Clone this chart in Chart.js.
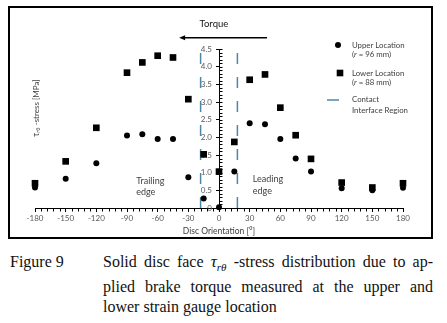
<!DOCTYPE html>
<html>
<head>
<meta charset="utf-8">
<script src="https://cdn.jsdelivr.net/npm/chart.js@4.4.0/dist/chart.umd.min.js"></script>
<style>
  body { margin: 0; background: #fff; width: 447px; height: 323px; position: relative; overflow: hidden; }
  #frame { position: absolute; left: 8px; top: 6px; width: 425px; height: 233px; border: 2px solid #000; box-sizing: border-box; }
  #frame canvas { position: absolute; left: 0; top: 0; }
  .cap { position: absolute; font-family: "Liberation Serif", "Times New Roman", serif; font-size: 16px; line-height: 20px; color: #111; }
  #fig { left: 10px; top: 252px; }
  #captext { left: 103px; top: 252px; width: 330px; }
  #captext div { text-align: justify; text-align-last: justify; }
  #captext div.last { text-align-last: left; }
</style>
</head>
<body>
<div id="frame"><canvas id="chart" width="421" height="229"></canvas></div>
<div class="cap" id="fig">Figure 9</div>
<div class="cap" id="captext">
  <div>Solid disc face <i style="font-size:17px">τ</i><sub style="font-size:11px"><i>rθ</i></sub> -stress distribution due to ap-</div>
  <div>plied brake torque measured at the upper and</div>
  <div class="last">lower strain gauge location</div>
</div>
<script>
// disc orientation [deg] where the gauges were read
const angles = [-180, -150, -120, -90, -75, -60, -45, -30, -15, 0, 15, 30, 45, 60, 75, 90, 120, 150, 180];
// tau_r_theta stress [MPa]
const upperStress = [0.58, 0.83, 1.27, 2.05, 2.09, 1.95, 1.95, 0.87, 0.27, 0.02, 1.03, 2.40, 2.37, 1.95, 1.40, 1.03, 0.56, 0.50, 0.57];
const lowerStress = [0.70, 1.32, 2.27, 3.83, 4.12, 4.31, 4.26, 3.08, 1.52, 1.03, 1.87, 3.63, 3.78, 2.84, 2.06, 1.39, 0.72, 0.58, 0.70];
// contact interface region edges [deg]
const contactEdges = [-18, 18];
const xTicks = [-180, -150, -120, -90, -60, -30, 0, 30, 60, 90, 120, 150, 180];
const yTicks = [0, 0.5, 1, 1.5, 2, 2.5, 3, 3.5, 4, 4.5];

const FONT = 'Lato, "Liberation Sans", Arial, sans-serif';
const CONTACT_COLOR = '#4d87a8';
Chart.defaults.font.family = FONT;

const pts = (ys) => angles.map((a, i) => ({x: a, y: ys[i]}));
const edgeLine = (a) => [{x: a, y: 0}, {x: a, y: yTicks[yTicks.length - 1]}];

// minor ticks, torque arrow, notes, legend and y title
const decor = {
  id: 'decor',
  afterDraw(chart) {
    const {ctx, scales: {x, y}} = chart;
    const x0 = Math.round(x.getPixelForValue(0)) + 0.5;
    const yb = Math.round(y.getPixelForValue(0)) + 0.5;
    ctx.save();
    ctx.strokeStyle = '#000';
    ctx.lineWidth = 1;
    ctx.beginPath();
    for (let i = 0; i <= 45; i++) {
      const py = Math.round(y.getPixelForValue(i / 10)) + 0.5;
      ctx.moveTo(x0, py); ctx.lineTo(x0 + 3, py);
    }
    for (let a = -180; a <= 180; a += 6) {
      if (a % 30 === 0) continue;
      const px = Math.round(x.getPixelForValue(a)) + 0.5;
      ctx.moveTo(px, yb); ctx.lineTo(px, yb + 3);
    }
    ctx.stroke();

    // torque arrow
    const ay = y.getPixelForValue(4.82);
    const ax1 = x.getPixelForValue(47), ax2 = x.getPixelForValue(-39);
    ctx.lineWidth = 1.5;
    ctx.beginPath(); ctx.moveTo(ax1, ay); ctx.lineTo(ax2 + 4, ay); ctx.stroke();
    ctx.fillStyle = '#000';
    ctx.beginPath(); ctx.moveTo(ax2, ay); ctx.lineTo(ax2 + 6, ay - 2.5); ctx.lineTo(ax2 + 6, ay + 2.5); ctx.closePath(); ctx.fill();
    ctx.font = '9.5px ' + FONT;
    ctx.textAlign = 'center'; ctx.textBaseline = 'middle';
    ctx.fillStyle = '#111';
    ctx.fillText('Torque', x.getPixelForValue(-5), y.getPixelForValue(5.21));

    // edge notes
    ctx.font = '9px ' + FONT;
    ctx.textAlign = 'left';
    ctx.fillStyle = '#404040';
    ctx.fillText('Trailing', x.getPixelForValue(-81), y.getPixelForValue(0.77));
    ctx.fillText('edge', x.getPixelForValue(-81), y.getPixelForValue(0.45));
    ctx.fillText('Leading', x.getPixelForValue(33), y.getPixelForValue(0.81));
    ctx.fillText('edge', x.getPixelForValue(33), y.getPixelForValue(0.48));

    // legend
    const lx = 328, tx = 342;
    ctx.fillStyle = '#000';
    ctx.beginPath(); ctx.arc(lx, 37, 3, 0, Math.PI * 2); ctx.fill();
    ctx.fillRect(lx + 2 - 3.3, 65 - 3.3, 6.6, 6.6);
    ctx.strokeStyle = CONTACT_COLOR; ctx.lineWidth = 1.5;
    ctx.beginPath(); ctx.moveTo(317, 92); ctx.lineTo(329, 92); ctx.stroke();
    ctx.font = '7.8px ' + FONT;
    ctx.fillStyle = '#404040';
    const rows = [['Upper Location', 37], ['(r = 96 mm)', 46.5], ['Lower Location', 65], ['(r = 88 mm)', 74.5], ['Contact', 91], ['Interface Region', 102]];
    rows.forEach(([t, ty]) => {
      if (t.startsWith('(r')) {
        ctx.fillText('(', tx, ty);
        let w = ctx.measureText('(').width;
        ctx.font = 'italic 7.8px ' + FONT;
        ctx.fillText('r', tx + w, ty);
        w += ctx.measureText('r').width;
        ctx.font = '7.8px ' + FONT;
        ctx.fillText(t.slice(2), tx + w, ty);
      } else {
        ctx.fillText(t, tx, ty);
      }
    });

    // y axis title
    ctx.translate(26, 100);
    ctx.rotate(-Math.PI / 2);
    const parts = [['τ', '8.5px ', 0], ['rθ', '5.5px ', 2], [' -stress [MPa]', '8px ', 0]];
    let total = 0;
    parts.forEach(([t, f]) => { ctx.font = f + FONT; total += ctx.measureText(t).width; });
    let cx = -total / 2;
    ctx.textAlign = 'left';
    parts.forEach(([t, f, dy]) => {
      ctx.font = f + FONT;
      ctx.fillText(t, cx, dy);
      cx += ctx.measureText(t).width;
    });
    ctx.restore();
  }
};

new Chart(document.getElementById('chart'), {
  type: 'scatter',
  data: {
    datasets: [
      {
        label: 'Upper Location (r = 96 mm)',
        data: pts(upperStress),
        pointStyle: 'circle',
        pointRadius: 3,
        backgroundColor: '#000',
        borderWidth: 0,
        clip: false
      },
      {
        label: 'Lower Location (r = 88 mm)',
        data: pts(lowerStress),
        pointStyle: 'rect',
        pointRadius: 4.7,
        backgroundColor: '#000',
        borderWidth: 0,
        clip: false
      },
      ...contactEdges.map(a => ({
        label: 'Contact Interface Region',
        type: 'line',
        data: edgeLine(a),
        borderColor: CONTACT_COLOR,
        borderWidth: 1.5,
        borderDash: [11, 13],
        pointRadius: 0,
        fill: false
      }))
    ]
  },
  options: {
    responsive: false,
    animation: false,
    layout: { padding: { left: 25, right: 28, top: 41, bottom: 0 } },
    plugins: { legend: { display: false }, tooltip: { enabled: false } },
    scales: {
      x: {
        type: 'linear',
        min: -180,
        max: 180,
        afterBuildTicks: s => { s.ticks = xTicks.map(v => ({value: v})); },
        afterFit: s => { s.height = 29; },
        ticks: { color: '#595959', font: { size: 8 }, padding: 2, maxRotation: 0 },
        grid: { drawOnChartArea: false, drawTicks: true, tickLength: 4, color: '#000' },
        border: { display: true, color: '#000', width: 1 },
        title: { display: true, text: 'Disc Orientation [°]', color: '#404040', font: { size: 8.5 }, padding: { top: 0, bottom: 1 } }
      },
      y: {
        type: 'linear',
        position: 'center',
        min: 0,
        max: 4.5,
        afterBuildTicks: s => { s.ticks = yTicks.map(v => ({value: v})); },
        ticks: { color: '#595959', font: { size: 8 }, padding: 4 },
        grid: { drawOnChartArea: false, drawTicks: true, tickLength: 3, color: '#000' },
        border: { display: true, color: '#000', width: 1 }
      }
    }
  },
  plugins: [decor]
});
</script>
</body>
</html>
